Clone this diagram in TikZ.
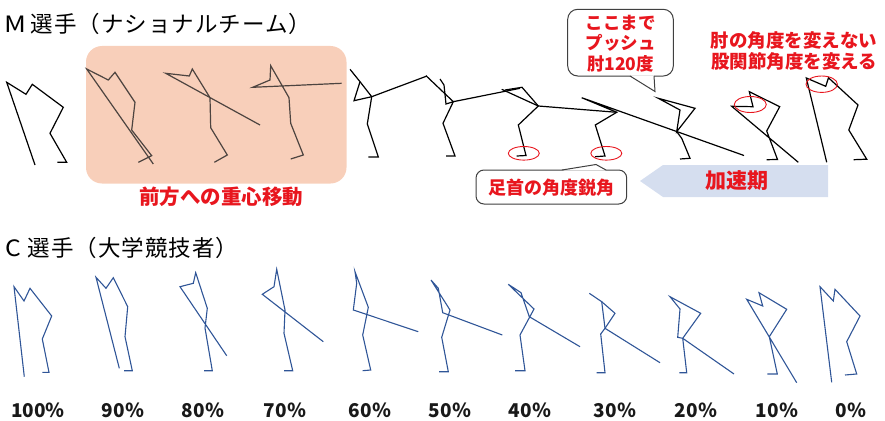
\documentclass[tikz,border=0pt]{standalone}
\usepackage{fontspec}
\setmainfont{Noto Sans CJK JP}
\definecolor{accred}{HTML}{E8161E}
\definecolor{salmon}{HTML}{F8CFBA}
\definecolor{figgray}{HTML}{4D4440}
\definecolor{cblue}{HTML}{2F5597}
\definecolor{arrowblue}{HTML}{D5DEEF}
\definecolor{edgegray}{HTML}{404040}
\begin{document}
\begin{tikzpicture}[x=1pt,y=-1pt,
  mfig/.style={draw=black, line width=1.2pt},
  boxfig/.style={draw=figgray, line width=1.2pt},
  cfig/.style={draw=cblue, line width=1.1pt},
  ring/.style={draw=accred, line width=0.9pt},
  callout/.style={draw=edgegray, line width=1pt, fill=white},
  redlabel/.style={text=accred, font=\bfseries\fontsize{18}{21}\selectfont, align=center, inner sep=0pt},
  pct/.style={font=\bfseries\fontsize{19}{21}\selectfont, text=black!90, inner sep=0pt},
  heading/.style={font=\fontsize{22.5}{26}\selectfont\addfontfeatures{LetterSpace=4.5}, anchor=west, inner sep=0pt}]
\useasboundingbox (0,0) rectangle (885,420);

% ---------- headings ----------
\node[heading] (titleM) at (4,23.5) {\makebox[26.5pt][l]{\scalebox{1.2}[1]{M}}選手（ナショナルチーム）};
\node[heading] (titleC) at (5,247.5) {\makebox[22.5pt][l]{\scalebox{1.1}[1]{C}}選手（大学競技者）};

% ---------- shaded phase: forward shift of the centre of mass ----------
\fill[salmon, rounded corners=16pt] (86,46) rectangle (346.5,183.5);
\node[redlabel, font=\bfseries\fontsize{20.5}{22}\selectfont] (shift) at (221,197) {前方への重心移動};

% ---------- upper row: athlete M ----------
\draw[mfig] (35,165) -- (6.7,82.3) -- (26,94.3) -- (32.3,84.3) -- (63.3,107.3) -- (50,133.3) -- (66.7,162.3) -- (57.3,162.3);

\draw[boxfig] (153.3,164) -- (86.7,69) -- (108.3,80) -- (115,72.3) -- (135,102.3) -- (131.7,130) -- (151.7,155.7) -- (138.3,162.3);
\draw[boxfig] (260,125) -- (165.7,73.3) -- (189.3,76) -- (192.3,69) -- (210,97.7) -- (210.7,127.7) -- (227.3,155) -- (214.3,162.3);
\draw[boxfig] (341.7,83.3) -- (252.7,87.3) -- (270,80) -- (270.7,65.7) -- (289,97.7) -- (290.7,123.3) -- (303.3,155) -- (290.7,159);

\draw[mfig] (427,76) -- (371.7,96.7) -- (354,100.7) -- (360,81.7) -- (350,69.3);
\draw[mfig] (360,81.7) -- (371.7,96.7) -- (367.3,124) -- (378.3,157) -- (368.3,157);

\draw[mfig] (520,88.3) -- (453.3,101.7) -- (426,75.7);
\draw[mfig] (440,79) -- (444,85) -- (446,104) -- (453.3,101.7) -- (443,123.3) -- (455,156) -- (446,156);

\draw[mfig] (616.7,112.3) -- (538.3,106) -- (501.7,89.3);
\draw[mfig] (505,90) -- (522,87.3) -- (538.3,106) -- (518.3,125) -- (526,155.5) -- (516.7,156);

\draw[mfig] (744,155.5) -- (581.7,97.7) -- (616.7,112.3) -- (595.3,125) -- (605,156) -- (595,156.7);

\draw[mfig] (658.3,98.3) -- (695,108.3) -- (676.7,131.7) -- (680,110) -- cycle;
\draw[mfig] (676.7,131.7) -- (681.7,138.3) -- (690,158.3) -- (680,159);

\draw[mfig] (798.3,162.3) -- (731.7,106.3) -- (753,106.7) -- (749.3,91.7) -- (779.7,106.7) -- (766.7,131) -- (777.5,159.5) -- (766.7,159.7);
\draw[mfig] (826.7,162.3) -- (806.3,78) -- (825.7,86.3) -- (828.5,77.8) -- (858,105) -- (848.8,130) -- (866.7,159.2) -- (853.7,159.7);

% joint angle markers
\draw[ring] (523.8,153.3) ellipse [x radius=15.5pt, y radius=6.8pt];
\draw[ring] (606.3,153.3) ellipse [x radius=15.5pt, y radius=6.8pt];
\draw[ring] (750.3,104.5) ellipse [x radius=16pt, y radius=8pt];
\draw[ring] (821.7,84.2) ellipse [x radius=15.7pt, y radius=8.2pt];

% ---------- callouts ----------
\draw[callout, rounded corners=10pt] (567.7,9.3) rectangle (673.3,76);
\fill[white] (630,75.3) -- (655,91.5) -- (654,75.3) -- cycle;
\draw[draw=edgegray, line width=1pt] (630,76) -- (655,91.5) -- (654,76);
\node[redlabel, font=\bfseries\fontsize{17.5}{20.5}\selectfont] (push) at (620.5,43.5) {ここまで\\プッシュ\\肘120度};

\draw[callout, rounded corners=8pt] (476,170) rectangle (626.7,204);
\fill[white] (562,170.6) -- (596,164.5) -- (606,170.6) -- cycle;
\draw[draw=edgegray, line width=1pt] (562,170) -- (596,164.5) -- (606,170);
\node[redlabel] (ankle) at (551,188) {足首の角度鋭角};

\node[redlabel, font=\bfseries\fontsize{18.5}{21}\selectfont] (elbow) at (794,50.5) {肘の角度を変えない\\股関節角度を変える};

% ---------- acceleration phase arrow ----------
\fill[arrowblue] (640,181) -- (663,165) -- (828,165) -- (828,197) -- (663,197) -- cycle;
\node[redlabel, font=\bfseries\fontsize{21}{23}\selectfont] (accel) at (737,181) {加速期};

% ---------- lower row: athlete C ----------
\draw[cfig] (24.3,376.7) -- (14,286.7) -- (24,301) -- (30,288.3) -- (51.7,316) -- (42.3,339) -- (49,372.3) -- (42.3,372.3);
\draw[cfig] (119.3,368.3) -- (96,277.3) -- (106,288.3) -- (113.3,277.7) -- (127.7,306.7) -- (125,336.7) -- (132.3,370.7) -- (124,370.7);
\draw[cfig] (226.7,355.7) -- (180,286.7) -- (193.3,283.3) -- (195.7,272.7) -- (207.3,308.3) -- (205,328) -- (212.3,370.7) -- (204,370.7);
\draw[cfig] (323.3,341.7) -- (262.3,294.3) -- (274,286.7) -- (276.7,269.3) -- (285,310) -- (284,333.3) -- (292.7,370.7) -- (284,370.7);
\draw[cfig] (418.3,331.7) -- (353.3,310) -- (356.7,283.3) -- (355,271.7) -- (368.3,307.3) -- (362.7,335) -- (370.7,370) -- (362.7,370.7);
\draw[cfig] (502.3,335) -- (442.7,312.7) -- (438.3,288.3) -- (431,280) -- (450,310) -- (441.7,337.3) -- (448.3,371.7) -- (439,371.7);
\draw[cfig] (580,346.7) -- (529.3,316.7) -- (521,292.7) -- (508.3,284.3) -- (534,309) -- (520,335) -- (525,370.7) -- (515,370.7);
\draw[cfig] (660,362.7) -- (605,328.3) -- (601.7,301.7) -- (589.3,293.3);
\draw[cfig] (601.7,301.7) -- (615,313.3) -- (605,328.3) -- (600.7,334) -- (605,372.7) -- (596.7,372.7);
\draw[cfig] (734,374) -- (682.7,338.3) -- (700.7,313.3) -- (670,296.7) -- (680,309) -- (677.7,337.3) -- (682.7,338.3) -- (686.7,372.7) -- (679.3,372.7);
\draw[cfig] (796.7,382.7) -- (746.7,299.3) -- (762.7,306) -- (759,292.7) -- (786.7,309.3) -- (769.3,336.7) -- (777.3,374) -- (767.3,374);
\draw[cfig] (831.7,382.3) -- (820,286.7) -- (833.3,301) -- (835,289.3) -- (860,316) -- (846.7,341.7) -- (856.7,374) -- (845,375);

% ---------- phase labels ----------
\node[pct] (p100) at (38,410) {100％};
\node[pct] (p90) at (123,410) {90％};
\node[pct] (p80) at (203,410) {80％};
\node[pct] (p70) at (285,410) {70％};
\node[pct] (p60) at (370,410) {60％};
\node[pct] (p50) at (450,410) {50％};
\node[pct] (p40) at (530,410) {40％};
\node[pct] (p30) at (615,410) {30％};
\node[pct] (p20) at (696,410) {20％};
\node[pct] (p10) at (777,410) {10％};
\node[pct] (p0) at (851,410) {0％};
\end{tikzpicture}
\end{document}
